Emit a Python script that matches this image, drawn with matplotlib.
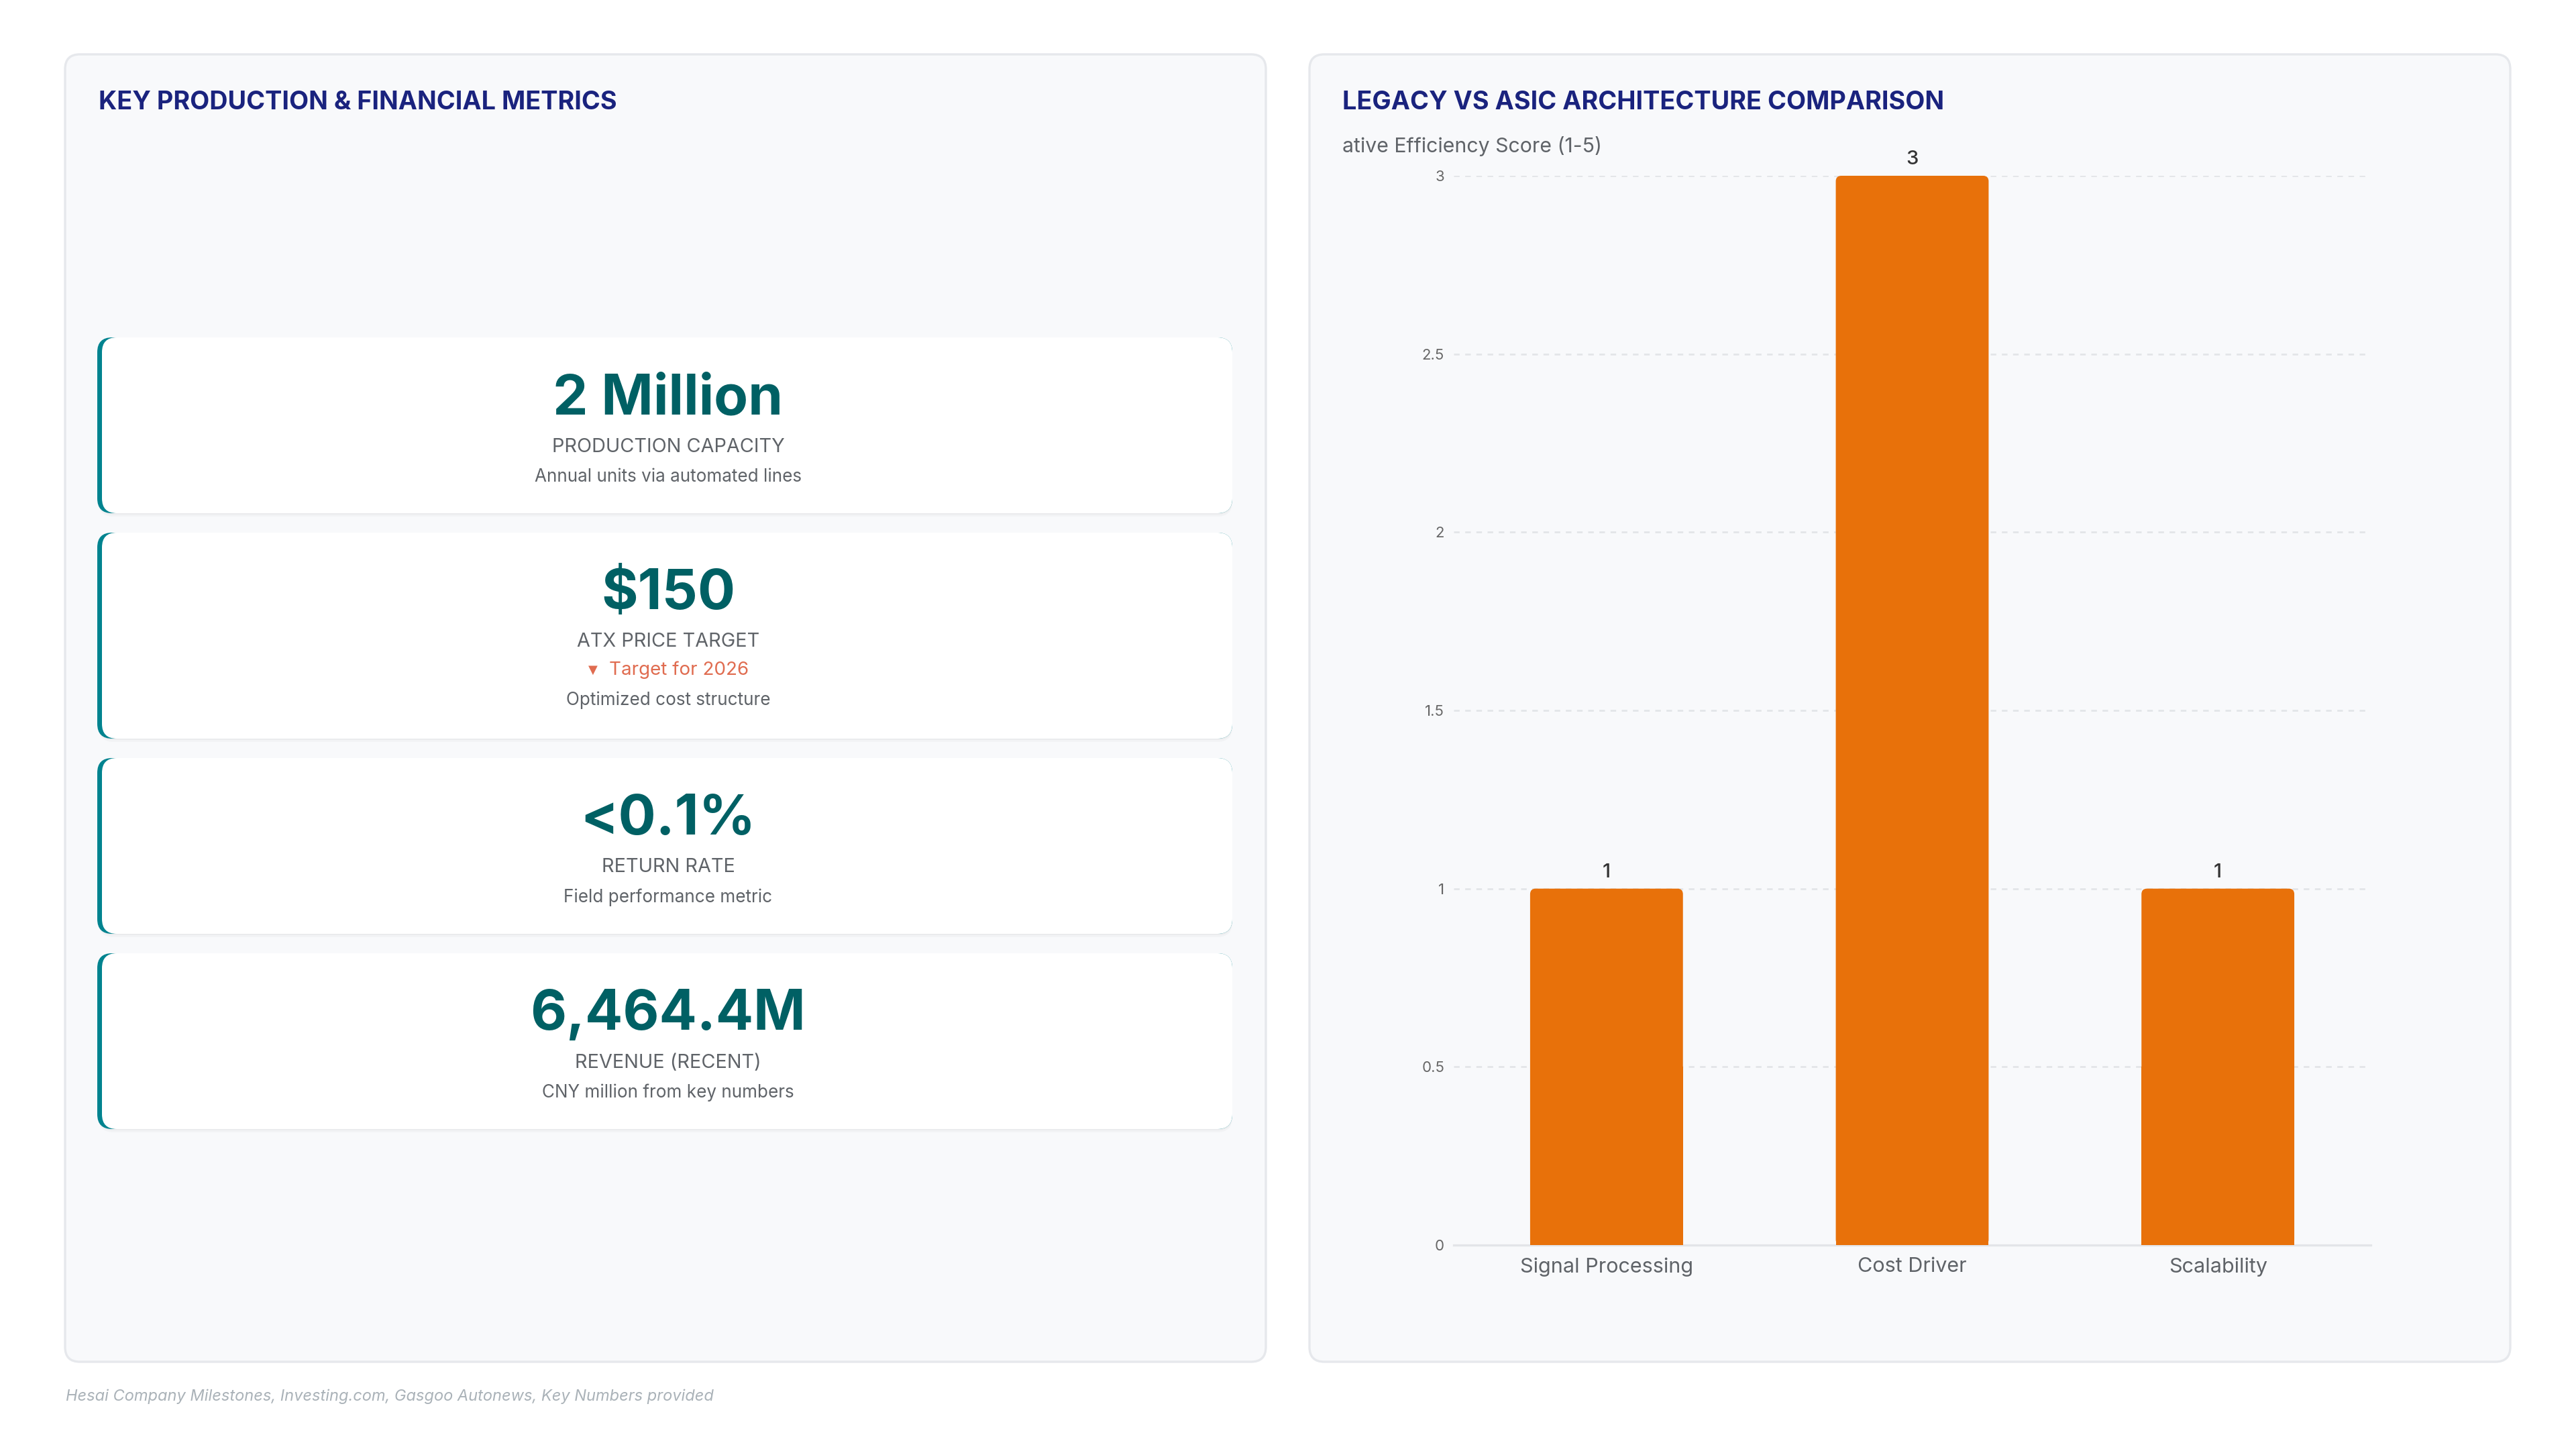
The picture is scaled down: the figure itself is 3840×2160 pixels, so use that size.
import matplotlib
matplotlib.use("Agg")
import matplotlib.pyplot as plt
from matplotlib.patches import FancyBboxPatch, Rectangle

plt.rcParams['font.family'] = ['Inter', 'DejaVu Sans']

# data
metric_values = ["2 Million", "$150", "<0.1%", "6,464.4M"]
metric_labels = ["PRODUCTION CAPACITY", "ATX PRICE TARGET", "RETURN RATE", "REVENUE (RECENT)"]
metric_notes = [None, "Target for 2026", None, None]
metric_subs = ["Annual units via automated lines", "Optimized cost structure",
               "Field performance metric", "CNY million from key numbers"]

categories = ["Signal Processing", "Cost Driver", "Scalability"]
scores = [1, 3, 1]
yticks = [0, 0.5, 1, 1.5, 2, 2.5, 3]
ytick_labels = ["0", "0.5", "1", "1.5", "2", "2.5", "3"]

W, H = 3840, 2160
fig = plt.figure(figsize=(19.2, 10.8), dpi=200, facecolor='white')

# background drawing layer in pixel coordinates
bg = fig.add_axes([0, 0, 1, 1], zorder=0)
bg.set_xlim(0, W)
bg.set_ylim(H, 0)
bg.axis('off')


def rbox(x, y, w, h, r, **kw):
    p = FancyBboxPatch((x, y), w, h, boxstyle="round,pad=0,rounding_size=%d" % r, **kw)
    bg.add_patch(p)
    return p


# panels
for px in (97, 1952):
    rbox(px, 81, 1790, 1949, 22, facecolor='#f8f9fb', edgecolor='#e6e8ec', linewidth=1.2)

bg.text(147, 153, "KEY PRODUCTION & FINANCIAL METRICS", fontsize=13.6, fontweight='bold',
        color='#1a237e', va='center', ha='left')
bg.text(2001, 153, "LEGACY VS ASIC ARCHITECTURE COMPARISON", fontsize=13.6, fontweight='bold',
        color='#1a237e', va='center', ha='left')

# metric cards
card_tops = [503, 794, 1130, 1421]
card_heights = [262, 307, 262, 262]
cx = 996
for i in range(len(metric_values)):
    top = card_tops[i]
    h = card_heights[i]
    # shadow
    rbox(147, top + 5, 1690, h, 22, facecolor='#000000', alpha=0.025, edgecolor='none')
    rbox(147, top + 2, 1690, h, 22, facecolor='#000000', alpha=0.03, edgecolor='none')
    # teal left border + white card
    rbox(145, top, 1692, h, 22, facecolor='#00838f', edgecolor='none')
    rbox(152, top, 1685, h, 22, facecolor='white', edgecolor='none')

    y = top + 92
    bg.text(cx, y, metric_values[i], fontsize=30, fontweight='bold', color='#006064',
            ha='center', va='center')
    y += 71
    bg.text(cx, y, metric_labels[i], fontsize=10.4, color='#5f6368', ha='center', va='center')
    if metric_notes[i]:
        y += 42
        bg.text(cx - 112, y, "\u25BC", fontsize=6.5, color='#e06c50', ha='center', va='center',
                family=['DejaVu Sans'])
        bg.text(cx + 16, y, metric_notes[i], fontsize=10, color='#e06c50', ha='center', va='center')
    y += 45
    bg.text(cx, y, metric_subs[i], fontsize=9.4, color='#5f6368', ha='center', va='center')

# footer
bg.text(98, 2082, "Hesai Company Milestones, Investing.com, Gasgoo Autonews, Key Numbers provided",
        fontsize=8.5, style='italic', color='#aab2b8', ha='left', va='center')

# bar chart
ax_box = [2167 / W, 1 - 1856 / H, (3534 - 2167) / W, (1856 - 262) / H]
ax = fig.add_axes(ax_box, zorder=1)
ax.set_facecolor('none')
x = range(len(categories))
bars = ax.bar(x, scores, width=0.5, color='#e8710a', zorder=3)
ax.bar_label(bars, padding=4, fontsize=10.5, fontweight='medium', color='#333333')
ax.set_xlim(-0.5, 2.5)
ax.set_ylim(0, 3)

# rounded tops on the bars
px_w = ax_box[2] * W
px_h = ax_box[3] * H
aspect = (3 / px_h) / (3 / px_w)
for b in bars:
    b.set_visible(False)
    bx, bw, bh = b.get_x(), b.get_width(), b.get_height()
    ax.add_patch(FancyBboxPatch((bx, 0), bw, bh, boxstyle="round,pad=0,rounding_size=0.018",
                                mutation_aspect=aspect, facecolor='#e8710a', edgecolor='none',
                                zorder=3))
    ax.add_patch(Rectangle((bx, 0), bw, bh / 2, facecolor='#e8710a', edgecolor='none', zorder=3))

ax.set_yticks(yticks)
ax.set_yticklabels(ytick_labels)
ax.set_xticks(list(x))
ax.set_xticklabels(categories)
ax.tick_params(axis='y', length=0, pad=5, labelsize=8, labelcolor='#666666')
ax.tick_params(axis='x', length=0, pad=6.5, labelsize=11, labelcolor='#5f6368')
ax.yaxis.grid(True, linestyle=(0, (3, 3)), color='#e3e5e8', linewidth=1)
ax.set_axisbelow(True)
for s in ['top', 'right', 'left']:
    ax.spines[s].set_visible(False)
ax.spines['bottom'].set_color('#e3e5e8')
ax.spines['bottom'].set_linewidth(1.2)

fig.text(2001 / W, 1 - 218 / H, "ative Efficiency Score (1-5)", fontsize=10.9, color='#5f6368',
         ha='left', va='center')

fig.savefig("out.png", dpi=200, facecolor='white')
